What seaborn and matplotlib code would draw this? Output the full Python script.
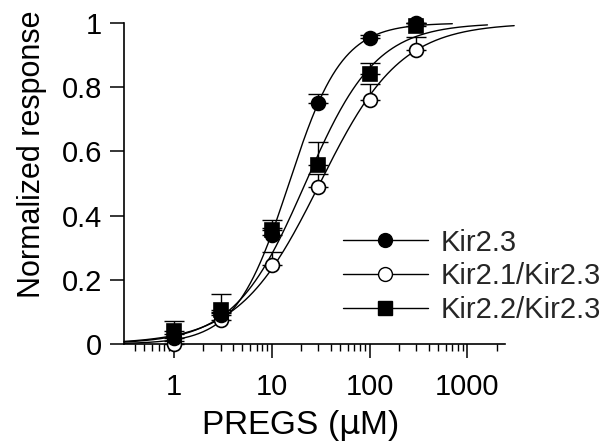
import numpy as np
import pandas as pd
import matplotlib
matplotlib.use('Agg')
import matplotlib.pyplot as plt
from matplotlib.lines import Line2D
from matplotlib.ticker import FixedLocator, LogLocator, NullFormatter
import seaborn as sns

# Datos
conc = [1, 3, 10, 30, 100, 300]
kir23 = [0.02, 0.09, 0.34, 0.75, 0.953, 1.0]
kir23_err = [0.01, 0.01, 0.02, 0.03, 0.01, 0.0]
kir21_23 = [0.0, 0.075, 0.246, 0.49, 0.76, 0.916]
kir21_23_err = [0.01, 0.02, 0.04, 0.04, 0.05, 0.04]
kir22_23 = [0.04, 0.106, 0.355, 0.558, 0.84, 0.99]
kir22_23_err = [0.03, 0.05, 0.03, 0.07, 0.035, 0.01]

# Parámetros del ajuste de Hill (EC50 en uM, coeficiente) y fin de cada curva
series = ['Kir2.3', 'Kir2.1/Kir2.3', 'Kir2.2/Kir2.3']
ec50 = [15, 31, 22]
hill = [1.6, 1.05, 1.2]
curve_end = [700, 3000, 1600]
curve_start = 0.31

x_ticks = [1, 10, 100, 1000]
x_labels = ['1', '10', '100', '1000']
y_ticks = [0, 0.2, 0.4, 0.6, 0.8, 1.0]
y_labels = ['0', '0.2', '0.4', '0.6', '0.8', '1']

sns.set_theme(style="ticks")
plt.rcParams['font.family'] = ['Liberation Sans', 'DejaVu Sans']

fig = plt.figure(figsize=(6.11, 4.47), dpi=100)
ax = fig.add_axes([0.203, 0.209, 0.623, 0.761])

# Curvas ajustadas
curvas = []
for nombre, ec, n, fin in zip(series, ec50, hill, curve_end):
    xs = np.logspace(np.log10(curve_start), np.log10(fin), 300)
    curvas.append(pd.DataFrame({'x': xs, 'y': 1 / (1 + (ec / xs) ** n), 'serie': nombre}))
df_curvas = pd.concat(curvas, ignore_index=True)
sns.lineplot(data=df_curvas, x='x', y='y', hue='serie', palette=['black'] * 3,
             linewidth=1.0, legend=False, ax=ax, estimator=None, sort=False)
for ln in ax.get_lines():
    ln.set_clip_on(False)

# Puntos con barras de error hacia arriba
estilos = {
    'Kir2.1/Kir2.3': dict(y=kir21_23, e=kir21_23_err, marker='o', mfc='white', ms=10),
    'Kir2.3': dict(y=kir23, e=kir23_err, marker='o', mfc='black', ms=10),
    'Kir2.2/Kir2.3': dict(y=kir22_23, e=kir22_23_err, marker='s', mfc='black', ms=10),
}
for i, (nombre, st) in enumerate(estilos.items()):
    ax.errorbar(conc, st['y'], yerr=[np.zeros(len(conc)), st['e']], fmt='none',
                ecolor='black', elinewidth=1.0, capsize=7, capthick=1.0,
                zorder=3 + i, clip_on=False)
    ax.plot(conc, st['y'], linestyle='none', marker=st['marker'], mfc=st['mfc'],
            mec='black', mew=1.2, ms=st['ms'], zorder=3.5 + i, clip_on=False)

ax.set_xscale('log')
ax.set_xlim(curve_start, 2400)
ax.set_ylim(-0.03, 1.03)
ax.xaxis.set_major_locator(FixedLocator(x_ticks))
ax.set_xticklabels(x_labels)
ax.xaxis.set_minor_locator(LogLocator(base=10, subs=np.arange(2, 10)))
ax.xaxis.set_minor_formatter(NullFormatter())
ax.set_yticks(y_ticks)
ax.set_yticklabels(y_labels)

for s in ['top', 'right']:
    ax.spines[s].set_visible(False)
ax.spines['left'].set_bounds(0, 1)
ax.spines['bottom'].set_position(('data', 0))
for s in ['left', 'bottom']:
    ax.spines[s].set_linewidth(1.2)
    ax.spines[s].set_color('black')

ax.tick_params(axis='both', which='major', direction='out', length=10, width=1.1,
               color='black', labelsize=21, labelcolor='black')
ax.tick_params(axis='x', which='minor', direction='out', length=5, width=1.0, color='black')
ax.tick_params(axis='y', pad=6)
ax.tick_params(axis='x', pad=11)

ax.set_xlabel('PREGS ($\\mathrm{\\mu}$M)', fontsize=24, color='black')
ax.xaxis.set_label_coords((300 - 124) / (505 - 124), -0.16)
ax.set_ylabel('Normalized response', fontsize=22, color='black')
ax.yaxis.set_label_coords(-0.202, 0.585)

handles = [
    Line2D([], [], color='black', lw=1.0, marker='o', mfc='black', mec='black', ms=10),
    Line2D([], [], color='black', lw=1.0, marker='o', mfc='white', mec='black', ms=10),
    Line2D([], [], color='black', lw=1.0, marker='s', mfc='black', mec='black', ms=10),
]
ax.legend(handles, series, frameon=False, fontsize=21, loc='center left',
          bbox_to_anchor=(343 / 611, 1 - 276.5 / 447), bbox_transform=fig.transFigure,
          handlelength=2.9, handletextpad=0.45, labelspacing=0.2, borderpad=0,
          borderaxespad=0)

fig.savefig('out.png', dpi=100)
